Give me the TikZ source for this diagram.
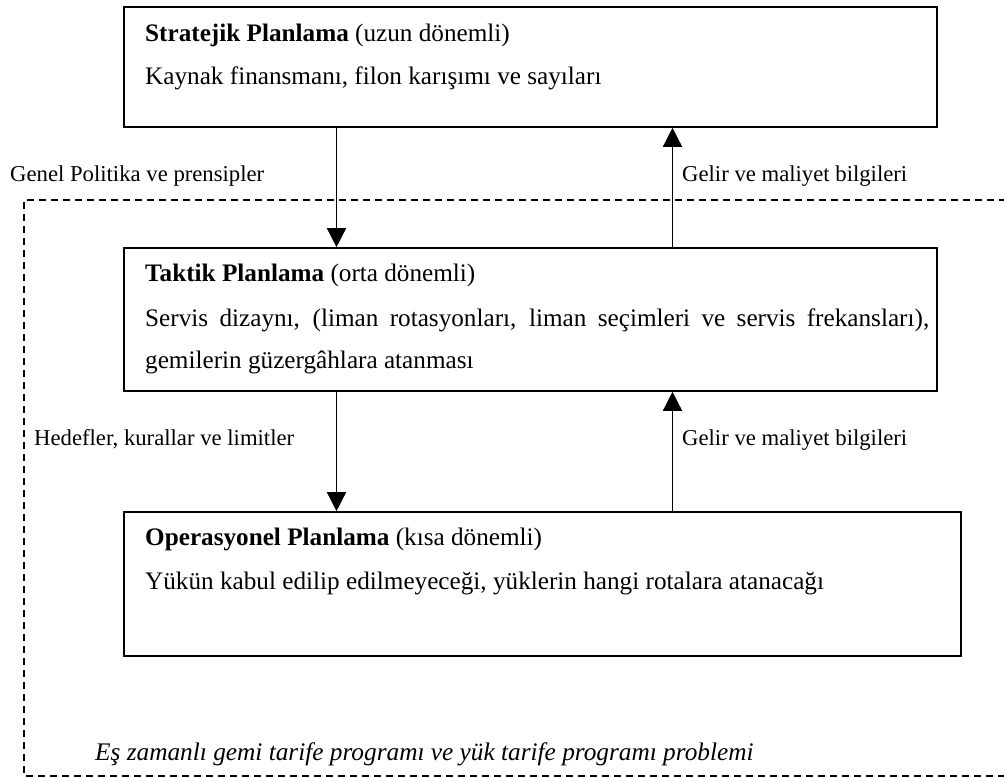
\documentclass[tikz,border=0pt]{standalone}
\usepackage{fontspec}
\setmainfont{Liberation Serif}
\usetikzlibrary{arrows.meta}
\begin{document}
\begin{tikzpicture}[x=1pt,y=-1pt,
  box/.style={draw=black,line width=1.6pt,rectangle,inner sep=0pt},
  boxtext/.style={anchor=base west,inner sep=0pt,font=\fontsize{25.2}{29}\selectfont},
  lbl/.style={anchor=base west,inner sep=0pt,font=\fontsize{22.7}{26}\selectfont},
  itl/.style={anchor=base west,inner sep=0pt,font=\fontsize{25.3}{29}\selectfont\itshape},
  flow/.style={line width=1.5pt,-{Triangle[length=19pt,width=19pt]}},
  frame/.style={line width=1.5pt,dash pattern=on 7pt off 5pt}]
\useasboundingbox (0,0) rectangle (1004,778);
% boxes
\node[box,minimum width=813pt,minimum height=120pt] (s) at (530.5,67) {};
\node[box,minimum width=813pt,minimum height=143pt] (t) at (530.5,319.5) {};
\node[box,minimum width=837pt,minimum height=144pt] (o) at (542.5,584) {};
% texts
\node[boxtext] (s1) at (145,42) {\textbf{Stratejik Planlama} (uzun dönemli)};
\node[boxtext] (s2) at (145,85) {Kaynak finansmanı, filon karışımı ve sayıları};
\node[boxtext] (t1) at (145,281.5) {\textbf{Taktik Planlama} (orta dönemli)};
\node[boxtext] (t2) at (145,326.5) {\makebox[784pt][s]{Servis dizaynı, (liman rotasyonları, liman seçimleri ve servis frekansları),}};
\node[boxtext] (t3) at (145,368.5) {gemilerin güzergâhlara atanması};
\node[boxtext] (o1) at (145,545.5) {\textbf{Operasyonel Planlama} (kısa dönemli)};
\node[boxtext] (o2) at (145,589) {Yükün kabul edilip edilmeyeceği, yüklerin hangi rotalara atanacağı};
% labels
\node[lbl] (l1) at (10,182) {Genel Politika ve prensipler};
\node[lbl] (l2) at (682,182) {Gelir ve maliyet bilgileri};
\node[lbl] (l3) at (34,445.5) {Hedefler, kurallar ve limitler};
\node[lbl] (l4) at (682,445.5) {Gelir ve maliyet bilgileri};
\node[itl] (l5) at (95,760) {Eş zamanlı gemi tarife programı ve yük tarife programı problemi};
% arrow columns
\coordinate (dn) at (336.5,0);
\coordinate (up) at (672.5,0);
\draw[flow] (s.south -| dn) -- (t.north -| dn);
\draw[flow] (t.north -| up) -- (s.south -| up);
\draw[flow] (t.south -| dn) -- (o.north -| dn);
\draw[flow] (o.north -| up) -- (t.south -| up);
% dashed frame
\coordinate (fa) at (1006,200);
\coordinate (fb) at (24,200);
\coordinate (fc) at (24,776);
\coordinate (fd) at (1006,776);
\draw[frame] (fa) -- (fb) -- (fc) -- (fd);
\end{tikzpicture}
\end{document}
